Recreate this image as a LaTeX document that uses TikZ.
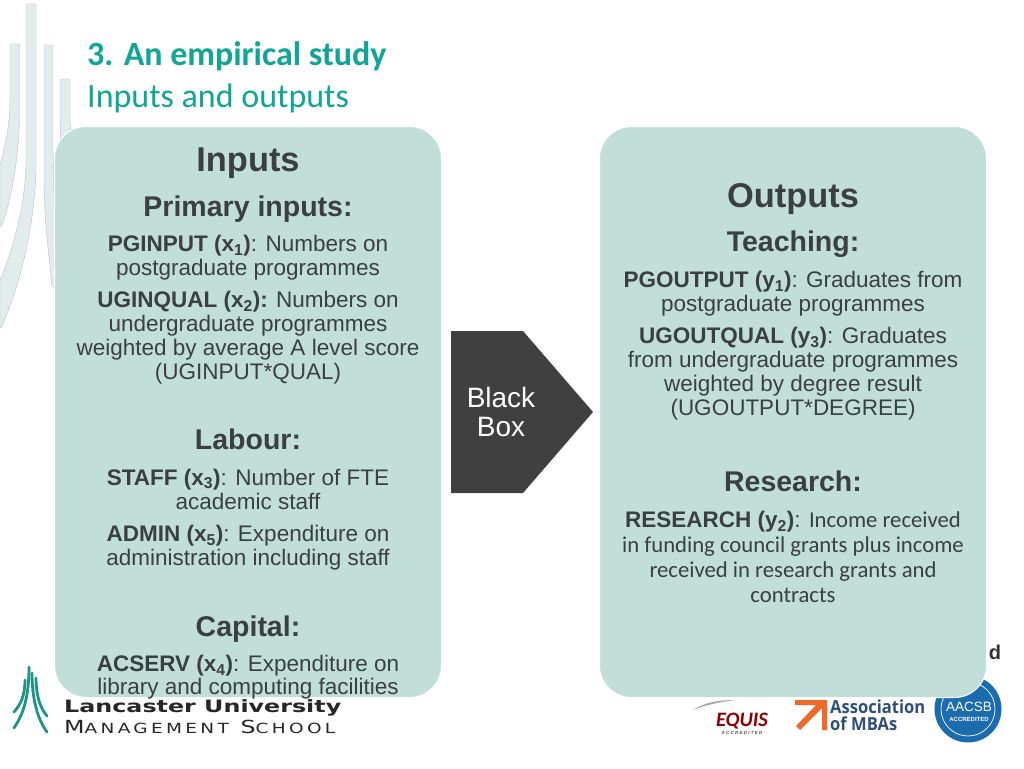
\documentclass[tikz,border=0pt]{standalone}
\usepackage{fontspec}
\setmainfont{Liberation Sans}
\newfontfamily\carlitofont{Carlito}
\newfontfamily\widefont{DejaVu Sans}
\newfontfamily\mbafont{Open Sans}
\usepackage{xcolor}
\usetikzlibrary{positioning}
\definecolor{paneltint}{HTML}{C2DED9}
\definecolor{inktext}{HTML}{3A3F40}
\definecolor{titleteal}{HTML}{10A595}
\definecolor{boxgrey}{HTML}{404040}
\definecolor{ribbontint}{HTML}{E1EDEC}
\definecolor{logoteal}{HTML}{1E9488}
\definecolor{aacsbblue}{HTML}{1B6CAE}
\definecolor{mbanavy}{HTML}{2F4F78}
\definecolor{mbaorange}{HTML}{EE6A2B}
\newcommand{\lowx}[1]{x\textsubscript{#1}}
\newcommand{\lowy}[1]{y\textsubscript{#1}}
\begin{document}
\begin{tikzpicture}[
    x=1pt, y=-1pt,
    panel/.style={draw=white, line width=1pt, fill=paneltint, rounded corners=32pt, minimum width=387pt, minimum height=571pt, inner sep=0pt},
    ribbon/.style={fill=ribbontint, draw=black!25, line width=0.4pt},
    bigtitle/.style={inner sep=0pt, text depth=0pt, text=inktext, font=\fontsize{34.4}{38}\selectfont\bfseries},
    midtitle/.style={inner sep=0pt, text depth=0pt, text=inktext, font=\fontsize{28.5}{32}\selectfont\bfseries},
    bodytext/.style={inner sep=0pt, text=inktext, align=center, font=\fontsize{22.5}{24}\selectfont},
    slidetitle/.style={inner sep=0pt, anchor=base west, text=titleteal, font=\fontsize{34}{38}\selectfont\carlitofont},
    logostroke/.style={draw=logoteal, line width=2.8pt, line cap=round}
]
  \useasboundingbox (0,0) rectangle (1024,768);
  \fill[white] (0,0) rectangle (1024,768);

  % ribbons
  \filldraw[ribbon] (10,44) -- (19.5,44) -- (19.5,120) .. controls (18,165) and (10,205) .. (1,227) -- (0,227) -- (0,165) .. controls (7,140) and (10,120) .. (10,100) -- cycle;
  \filldraw[ribbon] (26,4) -- (36,4) -- (36,170) .. controls (34,230) and (20,285) .. (1,328) -- (0,328) -- (0,280) .. controls (15,245) and (26,200) .. (26,160) -- cycle;
  \filldraw[ribbon] (44,45) -- (53,45) -- (53,150) -- (56,290) -- (52,285) .. controls (47,240) and (44,210) .. (44,180) -- cycle;
  \filldraw[ribbon] (60,79) -- (70,79) -- (70,115) -- (71,150) -- (61,150) -- (60,120) -- cycle;

  % title
  \node[slidetitle] (title) at (87,66) {\bfseries 3. An empirical study};
  \node[slidetitle] (subtitle) at (87,107) {Inputs and outputs};

  % logos under the panels
  \node[inner sep=0pt, text=black!80, font=\fontsize{20}{24}\selectfont\bfseries] (cutoff) at (995,652) {d};
  \fill[aacsbblue] (968,709) circle (33.5);
  \draw[white, line width=0.7pt] (968,709) circle (27);
  \node[inner sep=0pt, text=white, font=\fontsize{13.5}{14}\selectfont] (aacsb) at (969,707) {AACSB};
  \node[inner sep=0pt, text=white, font=\fontsize{6}{6}\selectfont\bfseries] (accredited) at (969,719) {ACCREDITED};
  \fill[black!35] (693,710) .. controls (705,702) and (720,700) .. (735,700) .. controls (720,702) and (705,705) .. (693,710) -- cycle;
  \node[inner sep=0pt, text=red!55!black, font=\fontsize{20.5}{22}\selectfont\carlitofont\bfseries\itshape] (equis) at (742,721) {EQUIS};
  \node[inner sep=0pt, text=black!70, font=\fontsize{4.5}{5}\selectfont\bfseries\itshape] (equisnote) at (742,733) {A C C R E D I T E D};
  \fill[mbaorange] (795,700) -- (827,700) -- (827,730) -- (822,730) -- (822,708) -- (800,730) -- (796,726) -- (816,705) -- (795,705) -- cycle;
  \node[inner sep=0pt, anchor=base west, text=mbanavy, font=\fontsize{18}{20}\selectfont\mbafont\bfseries] (mbaone) at (830,713) {\scalebox{0.92}[1]{Association}};
  \node[inner sep=0pt, anchor=base west, text=mbanavy, font=\fontsize{18}{20}\selectfont\mbafont\bfseries] (mbatwo) at (830,730) {\scalebox{0.92}[1]{of MBAs}};

  % panels
  \node[panel] (inputs) at (248,412) {};
  \node[panel] (outputs) at (793,412) {};

  % university logo
  \draw[logostroke] (29,667) .. controls (29,700) and (22,716) .. (14,728);
  \draw[logostroke] (25,680) .. controls (25,697) and (20,705) .. (14,712);
  \draw[logostroke] (36,678) .. controls (36,695) and (40,708) .. (47,716);
  \draw[logostroke] (32,673) .. controls (32,700) and (38,720) .. (47,732);
  \node[inner sep=0pt, anchor=base west, text=black!85, font=\fontsize{17}{20}\selectfont\widefont\bfseries] (lancaster) at (64,712) {\scalebox{1.4}[1]{Lancaster University}};
  \node[inner sep=0pt, anchor=base west, text=black!85, font=\fontsize{18}{20}\selectfont\widefont\addfontfeature{LetterSpace=18}] (school) at (64,733) {\scalebox{1.32}[1]{M{\fontsize{14}{20}\selectfont ANAGEMENT} S{\fontsize{14}{20}\selectfont CHOOL}}};

  % inputs text
  \node[bigtitle] (inhead) at (248,160) {Inputs};
  \node[midtitle] (primary) at (248,206) {Primary inputs:};
  \node[bodytext] (pginput) at (248,258) {\textbf{PGINPUT (\lowx{1})}: Numbers on\\postgraduate programmes};
  \node[bodytext] (uginqual) at (248,338) {\textbf{UGINQUAL (\lowx{2}):} Numbers on\\undergraduate programmes\\weighted by average A level score\\(UGINPUT*QUAL)};
  \node[midtitle] (labour) at (248,439) {Labour:};
  \node[bodytext] (staff) at (248,489) {\textbf{STAFF (\lowx{3})}: Number of FTE\\academic staff};
  \node[bodytext] (admin) at (248,548) {\textbf{ADMIN (\lowx{5})}: Expenditure on\\administration including staff};
  \node[midtitle] (capital) at (248,626) {Capital:};
  \node[bodytext, font=\fontsize{22.5}{23}\selectfont] (acserv) at (248,677) {\textbf{ACSERV (\lowx{4})}: Expenditure on\\library and computing facilities};

  % outputs text
  \node[bigtitle] (outhead) at (793,195) {Outputs};
  \node[midtitle] (teaching) at (793,241) {Teaching:};
  \node[bodytext] (pgoutput) at (793,294) {\textbf{PGOUTPUT (\lowy{1})}: Graduates from\\postgraduate programmes};
  \node[bodytext] (ugoutqual) at (793,374) {\textbf{UGOUTQUAL (\lowy{3})}: Graduates\\from undergraduate programmes\\weighted by degree result\\(UGOUTPUT*DEGREE)};
  \node[midtitle] (research) at (793,481) {Research:};
  \node[bodytext, font=\fontsize{22.5}{25.2}\selectfont] (resout) at (793,557) {\textbf{RESEARCH (\lowy{2})}: {\carlitofont\fontsize{22.7}{25.2}\selectfont Income received}\\{\carlitofont\fontsize{22.7}{25.2}\selectfont in funding council grants plus income}\\{\carlitofont\fontsize{22.7}{25.2}\selectfont received in research grants and}\\{\carlitofont\fontsize{22.7}{25.2}\selectfont contracts}};

  % black box
  \fill[boxgrey] (451,331) -- (523,331) -- (593,412) -- (523,493) -- (451,493) -- cycle;
  \node[inner sep=0pt, text=white, align=center, font=\fontsize{28}{29}\selectfont] (blackbox) at (501,412) {Black\\Box};
\end{tikzpicture}
\end{document}
